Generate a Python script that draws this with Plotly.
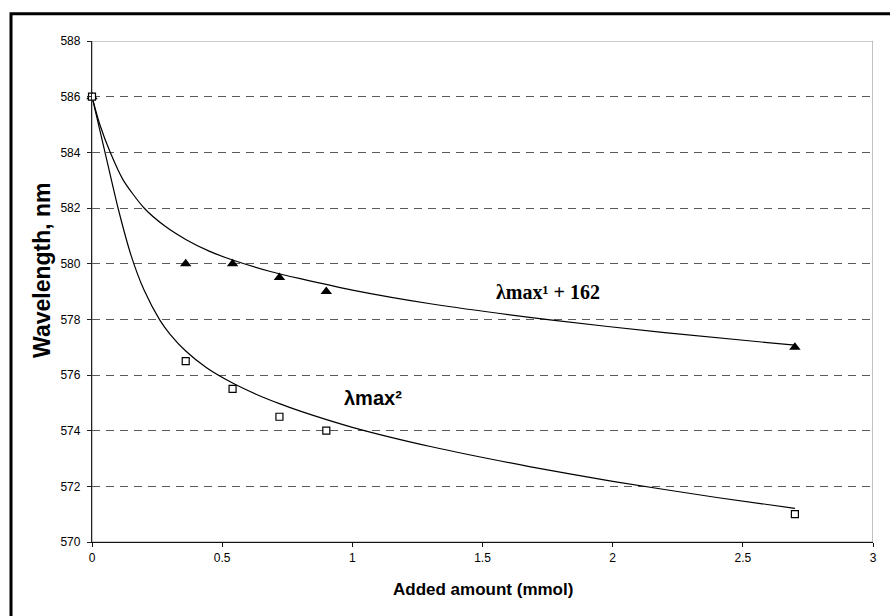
import plotly.graph_objects as go

# Measured data (added amount, mmol vs wavelength, nm)
x_data = [0, 0.36, 0.54, 0.72, 0.9, 2.7]
y_tri = [586, 580, 580, 579.5, 579, 577]        # λmax¹ + 162
y_sq = [586, 576.5, 575.5, 574.5, 574, 571]     # λmax²

# Trend curves
x_tri_fit = [0, 0.03, 0.07, 0.12, 0.20, 0.28, 0.36, 0.45, 0.54, 0.685, 0.80, 1.0, 1.3, 1.76, 2.2, 2.7]
y_tri_fit = [586, 585.0, 584.0, 583.0, 582.0, 581.35, 580.87, 580.45, 580.13, 579.72, 579.46,
             579.05, 578.56, 577.98, 577.52, 577.07]
x_sq_fit = [0, 0.05, 0.10, 0.15, 0.20, 0.26, 0.30, 0.36, 0.44, 0.54, 0.63, 0.72, 0.80,
            1.0, 1.3, 1.68, 2.0, 2.4, 2.7]
y_sq_fit = [586, 584.0, 582.0, 580.3, 579.05, 577.98, 577.46, 576.86, 576.26, 575.71, 575.31,
            574.97, 574.7, 574.12, 573.43, 572.71, 572.18, 571.6, 571.21]

x_ticks = [0, 0.5, 1, 1.5, 2, 2.5, 3]
x_ticklabels = ["0", "0.5", "1", "1.5", "2", "2.5", "3"]
y_ticks = [570, 572, 574, 576, 578, 580, 582, 584, 586, 588]

label_tri = "λmax¹ + 162"
label_sq = "λmax²"
x_title = "Added amount (mmol)"
y_title = "Wavelength, nm"

SANS = "Arial, Liberation Sans, sans-serif"
SERIF = "Times New Roman, Liberation Serif, serif"

fig = go.Figure()
fig.add_trace(go.Scatter(x=x_tri_fit, y=y_tri_fit, mode="lines",
                         line=dict(color="black", width=1.2, shape="spline", smoothing=0.7),
                         hoverinfo="skip", showlegend=False))
fig.add_trace(go.Scatter(x=x_sq_fit, y=y_sq_fit, mode="lines",
                         line=dict(color="black", width=1.2, shape="spline", smoothing=0.7),
                         hoverinfo="skip", showlegend=False))
fig.add_trace(go.Scatter(x=x_data, y=y_tri, mode="markers",
                         marker=dict(symbol="triangle-up", size=10, color="black"),
                         cliponaxis=False, showlegend=False))
fig.add_trace(go.Scatter(x=x_data, y=y_sq, mode="markers",
                         marker=dict(symbol="square", size=7, color="white",
                                     line=dict(color="black", width=1.2)),
                         cliponaxis=False, showlegend=False))

fig.update_layout(
    width=890, height=616,
    margin=dict(l=92, r=17, t=41, b=74),
    paper_bgcolor="white", plot_bgcolor="white",
    font=dict(family=SANS, color="black", size=12),
    xaxis=dict(range=[0, 3], tickvals=x_ticks, ticktext=x_ticklabels,
               showgrid=False, zeroline=False, showline=True, linecolor="#111",
               linewidth=1.3, ticks="outside", ticklen=4, tickcolor="#111",
               tickfont=dict(family=SANS, size=12, color="black")),
    yaxis=dict(range=[570, 588], tickvals=y_ticks,
               showgrid=True, gridcolor="#5a5a5a", griddash="8px,6px", gridwidth=1,
               zeroline=False, showline=True, linecolor="#222",
               linewidth=1.3, ticks="outside", ticklen=4, tickcolor="#222",
               ticklabelstandoff=4,
               tickfont=dict(family=SANS, size=12, color="black")),
    shapes=[
        dict(type="rect", xref="x", yref="y", x0=0, x1=3, y0=570, y1=588,
             line=dict(color="#999", width=1.2), layer="below"),
        dict(type="rect", xref="paper", yref="paper", x0=-0.1037, x1=1.04,
             y0=-0.18, y1=1.0543, line=dict(color="black", width=3)),
    ],
    annotations=[
        dict(text=label_tri, x=1.544, y=579.0, xref="x", yref="y",
             xanchor="left", yanchor="middle", showarrow=False,
             font=dict(family=SERIF, size=20, color="black", weight="bold")),
        dict(text=label_sq, x=1.08, y=575.16, xref="x", yref="y",
             xanchor="center", yanchor="middle", showarrow=False,
             font=dict(family=SANS, size=20, color="black", weight="bold")),
        dict(text=x_title, x=0.5, y=-0.0958, xref="paper", yref="paper",
             xanchor="center", yanchor="middle", showarrow=False,
             font=dict(family=SANS, size=17, color="black", weight="bold")),
        dict(text=y_title, x=-0.064, y=0.543, xref="paper", yref="paper",
             xanchor="center", yanchor="middle", showarrow=False, textangle=-90,
             font=dict(family=SANS, size=23, color="black", weight="bold")),
    ],
)

fig.write_html("out.html")
